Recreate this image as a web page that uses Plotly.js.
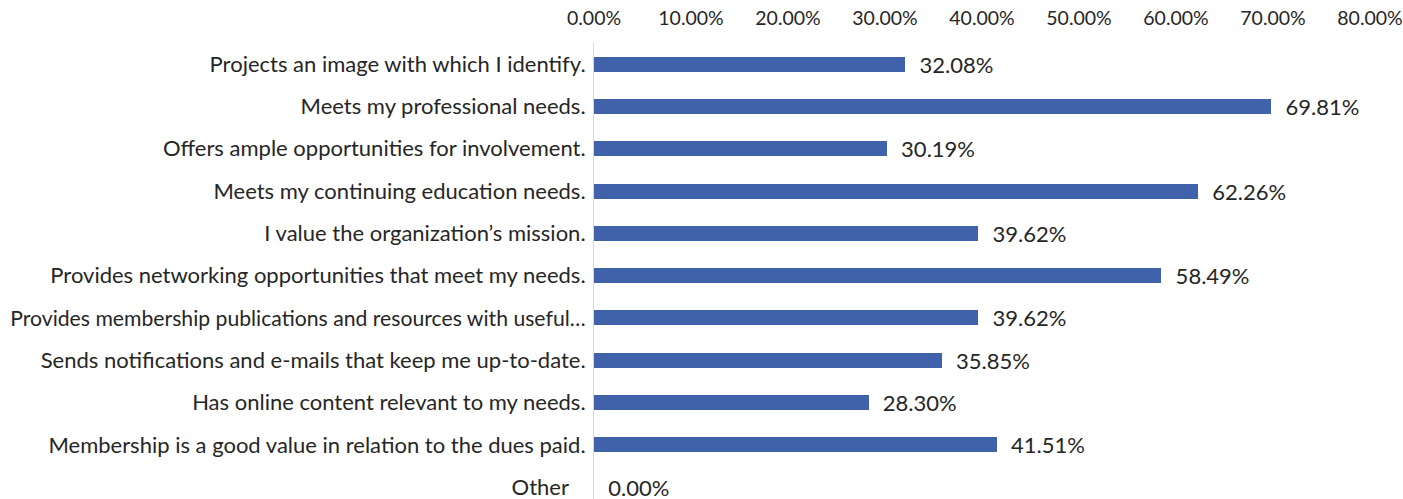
<!DOCTYPE html>
<html>
<head>
<meta charset="utf-8">
<script src="https://cdn.plot.ly/plotly-3.0.1.min.js"></script>
<style>body{margin:0;padding:0;background:#fff;} #chart{width:1403px;height:499px;}</style>
</head>
<body>
<div id="chart"></div>
<script>
const categories = [
  "Projects an image with which I identify.",
  "Meets my professional needs.",
  "Offers ample opportunities for involvement.",
  "Meets my continuing education needs.",
  "I value the organization\u2019s mission.",
  "Provides networking opportunities that meet my needs.",
  "Provides membership publications and resources with useful\u2026",
  "Sends notifications and e-mails that keep me up-to-date.",
  "Has online content relevant to my needs.",
  "Membership is a good value in relation to the dues paid.",
  "Other"
];
const values = [32.08, 69.81, 30.19, 62.26, 39.62, 58.49, 39.62, 35.85, 28.30, 41.51, 0.00];
const tickVals = [0, 10, 20, 30, 40, 50, 60, 70, 80];
const tickText = tickVals.map(v => v.toFixed(2) + "%");

// category label display: the long label is set a touch smaller so it fits, "Other" sits a bit left
const catText = categories.map(c => {
  if (c.length > 58) return '<span style="font-size:21.2px">' + c + '</span>';
  if (c === "Other") return c + "\u2002\u00a0";
  return c;
});

const FONT = "Lato, Liberation Sans, Arial, sans-serif";
const trace = {
  type: "bar",
  orientation: "h",
  x: values,
  y: categories,
  width: 0.355,
  marker: {color: "#3F62AB"},
  text: values.map(v => "\u00a0\u00a0" + v.toFixed(2) + "%"),
  textposition: "outside",
  constraintext: "none",
  cliponaxis: false,
  textfont: {family: FONT, size: 22, color: "#262626"},
  hoverinfo: "none"
};
const layout = {
  width: 1403, height: 499,
  margin: {l: 594, r: 33, t: 43, b: 0, pad: 0},
  paper_bgcolor: "#fff", plot_bgcolor: "#fff",
  showlegend: false,
  bargap: 0,
  xaxis: {
    side: "top", range: [0, 80], tickvals: tickVals, ticktext: tickText,
    showgrid: false, zeroline: false, showline: false, ticks: "",
    ticklabelstandoff: 13,
    tickfont: {family: FONT, size: 19.5, color: "#262626"}
  },
  yaxis: {
    type: "category", range: [10.28, -0.5],
    tickvals: categories, ticktext: catText,
    showgrid: false, zeroline: false, showline: true, linecolor: "#d9d9d9", linewidth: 1,
    ticks: "", ticklabelstandoff: 3,
    tickfont: {family: FONT, size: 22, color: "#262626"}
  }
};
Plotly.newPlot("chart", [trace], layout, {displayModeBar: false, staticPlot: true});
</script>
</body>
</html>
